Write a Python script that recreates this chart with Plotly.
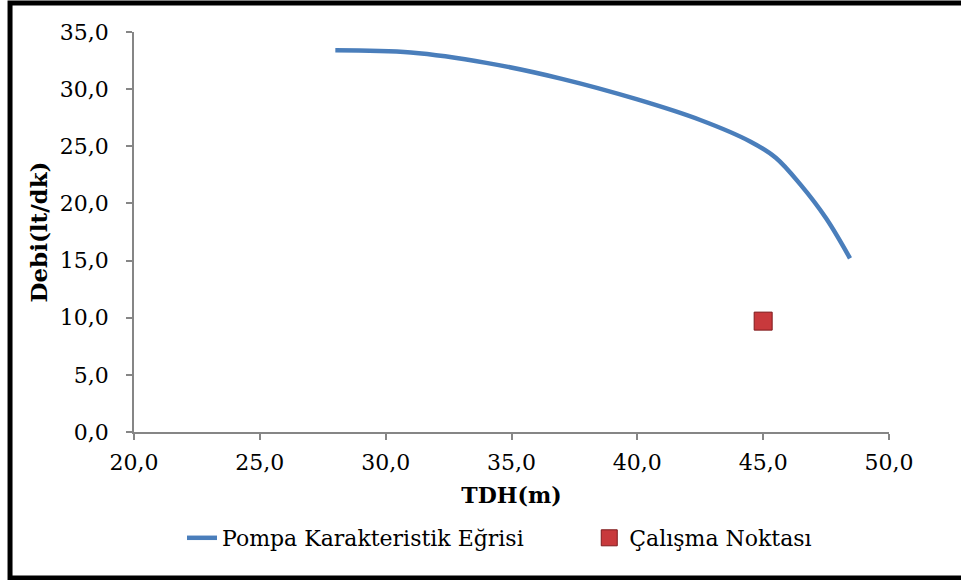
import plotly.graph_objects as go

# Pump characteristic curve: total dynamic head (m) vs. flow rate (lt/dk)
tdh_curve = [28.0, 31.0, 34.0, 37.0, 40.0, 42.5, 44.5, 45.5, 46.5, 47.5, 48.45]
debi_curve = [33.4, 33.2, 32.3, 30.9, 29.1, 27.3, 25.4, 24.0, 21.6, 18.7, 15.2]

# Operating point
tdh_point = [45.0]
debi_point = [9.7]

x_ticks = [20, 25, 30, 35, 40, 45, 50]
y_ticks = [0, 5, 10, 15, 20, 25, 30, 35]

FONT = "DejaVu Serif"
AXIS_GRAY = "#868686"

fig = go.Figure()

fig.add_trace(go.Scatter(
    x=tdh_curve, y=debi_curve,
    mode="lines",
    name="Pompa Karakteristik Eğrisi",
    line=dict(color="#4A7EBB", width=4.5, shape="spline", smoothing=1.0),
    legend="legend",
))

fig.add_trace(go.Scatter(
    x=tdh_point, y=debi_point,
    mode="markers",
    name="Çalışma Noktası",
    marker=dict(symbol="square", size=18, color="#C8393C",
                line=dict(color="#7E1A1C", width=1)),
    legend="legend2",
))

axis_common = dict(
    showgrid=False, zeroline=False,
    showline=True, linecolor=AXIS_GRAY, linewidth=1.5,
    ticks="outside", ticklen=6, tickcolor=AXIS_GRAY, tickwidth=1.5,
    tickfont=dict(family=FONT, size=22, color="#000000"),
    automargin=False,
)

fig.update_xaxes(
    range=[20, 50], tickvals=x_ticks,
    ticktext=[f"{v:.1f}".replace(".", ",") for v in x_ticks],
    ticklabelstandoff=4,
    title=dict(text="<b>TDH(m)</b>", font=dict(family=FONT, size=22, color="#000000"),
               standoff=13),
    **axis_common,
)
fig.update_yaxes(
    range=[0, 35], tickvals=y_ticks,
    ticktext=[f"{v:.1f}".replace(".", ",") for v in y_ticks],
    ticklabelstandoff=13,
    title=dict(text="<b>Debi(lt/dk)</b>", font=dict(family=FONT, size=23, color="#000000"),
               standoff=6),
    **axis_common,
)

# Outer chart frame
fig.add_shape(type="rect", xref="paper", yref="paper",
              x0=-0.1642, x1=1.11, y0=-0.365, y1=1.0725,
              line=dict(color="#000000", width=5), fillcolor="rgba(0,0,0,0)",
              layer="below")

legend_common = dict(
    orientation="h", y=-0.265, yanchor="middle",
    font=dict(family=FONT, size=22, color="#000000"),
    bgcolor="rgba(0,0,0,0)", xanchor="left",
)

fig.update_layout(
    width=961, height=580,
    margin=dict(l=134, r=72, t=32, b=148, autoexpand=False),
    paper_bgcolor="#FFFFFF", plot_bgcolor="#FFFFFF",
    font=dict(family=FONT, size=22, color="#000000"),
    showlegend=True,
    legend=dict(x=0.0636, **legend_common),
    legend2=dict(x=0.603, **legend_common),
)

fig.write_html("out.html")
